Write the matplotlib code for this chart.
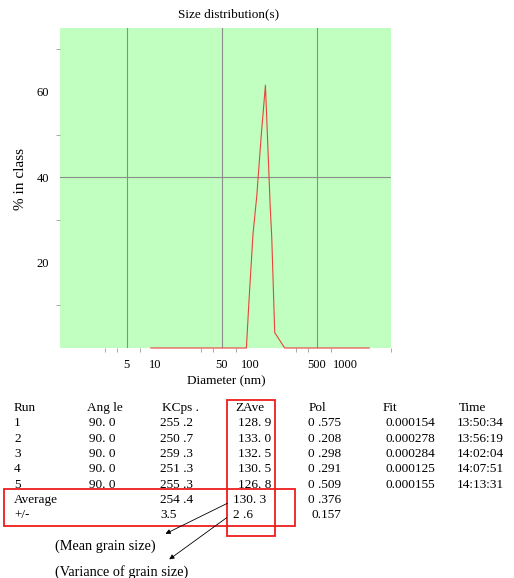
import matplotlib.pyplot as plt
from matplotlib.patches import Rectangle, FancyArrowPatch
from matplotlib.ticker import FixedLocator, NullFormatter

# size distribution
DIAM = [9, 90.8, 97.2, 106.6, 116.6, 130.6, 143.9, 161.6, 167.6, 180.2, 229.4, 1770]
PCT = [0, 0, 12, 26.8, 35.5, 50.4, 61.6, 33, 26, 3.6, 0, 0]

XTICKS = [5, 10, 50, 100, 500, 1000]
XMINOR = [3, 4, 7, 30, 40, 70, 300, 400, 700, 3000]
XGRID = [5, 50, 500]
YTICKS = [20, 40, 60]
YMINOR = [10, 30, 50, 70]

# table
HEADERS = ['Run', 'Ang le', 'KCps .', 'ZAve', 'Pol', 'Fit', 'Time']
RUNS = ['1', '2', '3', '4', '5']
ANGLE = ['90. 0', '90. 0', '90. 0', '90. 0', '90. 0']
KCPS = ['255 .2', '250 .7', '259 .3', '251 .3', '255 .3']
ZAVE = ['128. 9', '133. 0', '132. 5', '130. 5', '126. 8']
POL = ['0 .575', '0 .208', '0 .298', '0 .291', '0 .509']
FIT = ['0.000154', '0.000278', '0.000284', '0.000125', '0.000155']
TIME = ['13:50:34', '13:56:19', '14:02:04', '14:07:51', '14:13:31']
AVG = ['Average', '254 .4', '130. 3', '0 .376']
ERR = ['+/-', '3.5', '2 .6', '0.157']

W, H = 514, 578
plt.rcParams['font.family'] = ['Liberation Serif', 'DejaVu Serif']

fig = plt.figure(figsize=(W / 100, H / 100), dpi=100)


def fx(x):
    return x / W


def fy(y):
    return 1 - y / H


ax = fig.add_axes([fx(60), fy(348), fx(391) - fx(60), fy(28) - fy(348)])
ax.set_facecolor('#c0ffc0')
for s in ax.spines.values():
    s.set_visible(False)
ax.set_xscale('log')
ax.set_xlim(1, 3000)
ax.set_ylim(0, 75)

for g in XGRID:
    ax.axvline(g, color='#8c8c8c', lw=0.8, zorder=1)
ax.axhline(40, color='#8c8c8c', lw=0.8, zorder=1)

ax.plot(DIAM, PCT, color='#e8443c', lw=0.8, clip_on=False, zorder=3)

ax.xaxis.set_major_locator(FixedLocator(XTICKS))
ax.set_xticklabels([str(t) for t in XTICKS])
ax.xaxis.set_minor_locator(FixedLocator(XMINOR))
ax.xaxis.set_minor_formatter(NullFormatter())
ax.yaxis.set_major_locator(FixedLocator(YTICKS))
ax.yaxis.set_minor_locator(FixedLocator(YMINOR))
ax.tick_params(which='major', length=0, labelsize=9, pad=8)
ax.tick_params(which='minor', length=3, color='#999999', width=0.6)

fig.text(fx(229), fy(14), 'Size distribution(s)', ha='center', va='center', fontsize=9.5)
fig.text(fx(226), fy(381), 'Diameter (nm)', ha='center', va='center', fontsize=9.5)
fig.text(fx(20), fy(179), '% in class', ha='center', va='center', rotation=90, fontsize=11)

# table text
fs = 9.5
hx = [14, 87, 162, 235, 309, 383, 459]
vx = [14, 89, 160, 238, 308, 385, 457]
y0, dy = 408, 15.3
for h, x in zip(HEADERS, hx):
    fig.text(fx(x), fy(y0), h, va='center', fontsize=fs)
cols = [RUNS, ANGLE, KCPS, ZAVE, POL, FIT, TIME]
for i in range(5):
    for col, x in zip(cols, vx):
        fig.text(fx(x), fy(y0 + dy * (i + 1)), col[i], va='center', fontsize=fs)
for row, r in ((AVG, 6), (ERR, 7)):
    yy = fy(y0 + dy * r)
    fig.text(fx(14), yy, row[0], va='center', fontsize=fs)
    fig.text(fx(160), yy, row[1], va='center', fontsize=fs)
    fig.text(fx(233), yy, row[2], va='center', fontsize=fs)
    fig.text(fx(308 if r == 6 else 311), yy, row[3], va='center', fontsize=fs)

# red boxes
fig.add_artist(Rectangle((fx(227), fy(536)), fx(275) - fx(227), fy(400) - fy(536),
                         transform=fig.transFigure, fill=False, ec='#ee1c1c', lw=1.3))
fig.add_artist(Rectangle((fx(4), fy(526)), fx(295) - fx(4), fy(489) - fy(526),
                         transform=fig.transFigure, fill=False, ec='#ee1c1c', lw=1.3))

# arrows and notes
for (x1, y1), (x2, y2) in (((230, 502), (163, 535)), ((229, 516), (167, 561))):
    fig.add_artist(FancyArrowPatch((fx(x1), fy(y1)), (fx(x2), fy(y2)),
                                   transform=fig.transFigure, arrowstyle='-|>',
                                   mutation_scale=7, lw=0.6, color='black'))
fig.text(fx(55), fy(546), '(Mean grain size)', va='center', fontsize=10.3)
fig.text(fx(55), fy(572), '(Variance of grain size)', va='center', fontsize=10.3)

fig.savefig('out.png', dpi=100)
